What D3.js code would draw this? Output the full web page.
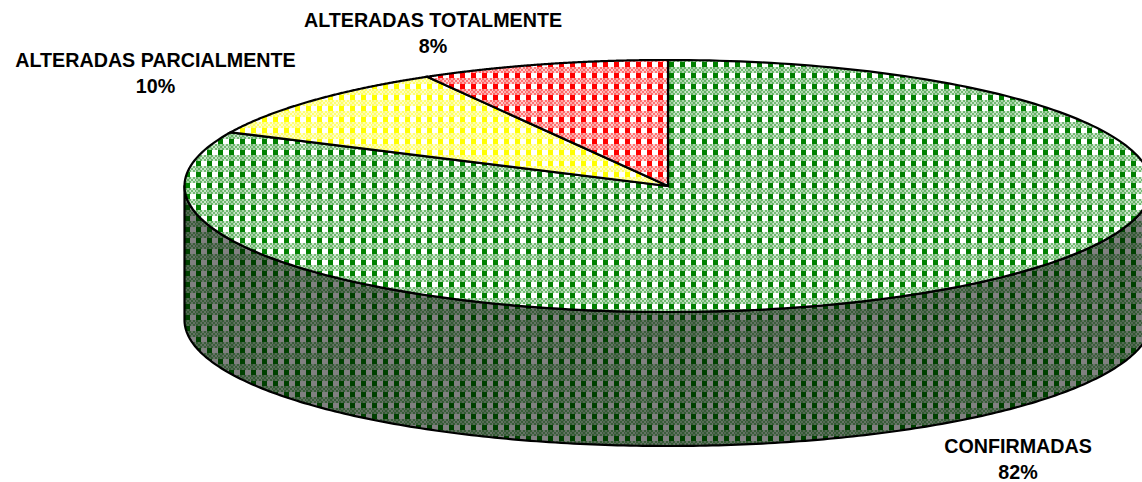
<!DOCTYPE html>
<html><head><meta charset="utf-8">
<script src="https://cdnjs.cloudflare.com/ajax/libs/d3/7.8.5/d3.min.js"></script>
<style>html,body{margin:0;padding:0;background:#fff;overflow:hidden}svg{display:block}
text{font-family:"Liberation Sans",Arial,sans-serif;font-weight:bold;font-size:19.7px;fill:#000;text-anchor:middle}</style>
</head><body><svg id="c" width="1142" height="482"></svg>
<script>
const categories=["CONFIRMADAS","ALTERADAS PARCIALMENTE","ALTERADAS TOTALMENTE"];
const shares=[82.0,9.7,8.3];
const topColors=["#008000","#ffff00","#ff0000"];
const topBacks=["#ffffff","#ffffff","#ffffff"];
const wallColor="#004000", wallBack="#808080";
const labelPos=[[1018,452.5],[155.5,67],[433,26.5]];

const svg=d3.select("#c");
const defs=svg.append("defs");
function addPattern(id,fg,bg){
  const mix=d3.interpolateRgb(bg,fg);
  const p=defs.append("pattern").attr("id",id).attr("patternUnits","userSpaceOnUse")
    .attr("x",9).attr("y",1).attr("width",11).attr("height",11);
  p.append("rect").attr("width",11).attr("height",11).attr("fill",bg);
  const cells=[];
  for(let y=0;y<11;y++)for(let x=0;x<11;x++){
    const col=x<5, band=y<6;
    if(band){
      const on=(Math.floor(x/2)+Math.floor(y/2))%2===0;
      cells.push([x,y,mix(col?(on?0.6:0.35):(on?0.55:0.2))]);
    } else if(col) cells.push([x,y,fg]);
  }
  p.selectAll("rect.c").data(cells).join("rect").attr("class","c")
    .attr("x",d=>d[0]).attr("y",d=>d[1]).attr("width",1).attr("height",1)
    .attr("fill",d=>d[2]).attr("shape-rendering","crispEdges");
}
topColors.forEach((c,i)=>addPattern("t"+i,c,topBacks[i]));
addPattern("wall",wallColor,wallBack);

const cx=668,cy=186,rx=483.5,ry=126,depth=134;
const X=d3.scaleLinear().domain([-1,1]).range([cx-rx,cx+rx]);
const Y=d3.scaleLinear().domain([-1,1]).range([cy-ry,cy+ry]);
const pt=(a,dy=0)=>[X(Math.sin(a)),Y(-Math.cos(a))+dy];
const samples=(a0,a1,dy=0)=>d3.range(0,241).map(i=>pt(a0+(a1-a0)*i/240,dy));
const line=d3.line();

const wallTop=samples(Math.PI*0.5,Math.PI*1.5);
const wallBot=samples(Math.PI*1.5,Math.PI*0.5,depth);
svg.append("path").attr("d",line(wallTop.concat(wallBot))+"Z")
  .attr("fill","url(#wall)").attr("stroke","#000").attr("stroke-width",2.2).attr("stroke-linejoin","round");

const pie=d3.pie().sort(null)(shares);
svg.selectAll("path.s").data(pie).join("path").attr("class","s")
  .attr("d",d=>line([[X(0),Y(0)]].concat(samples(d.startAngle,d.endAngle)))+"Z")
  .attr("fill",(d,i)=>`url(#t${i})`).attr("stroke","#000").attr("stroke-width",2.2).attr("stroke-linejoin","miter");

const labels=svg.selectAll("g.l").data(categories).join("g").attr("class","l");
labels.append("text").attr("x",(d,i)=>labelPos[i][0]).attr("y",(d,i)=>labelPos[i][1]).text(d=>d);
labels.append("text").attr("x",(d,i)=>labelPos[i][0]).attr("y",(d,i)=>labelPos[i][1]+26).text((d,i)=>Math.round(shares[i])+"%");
</script></body></html>
